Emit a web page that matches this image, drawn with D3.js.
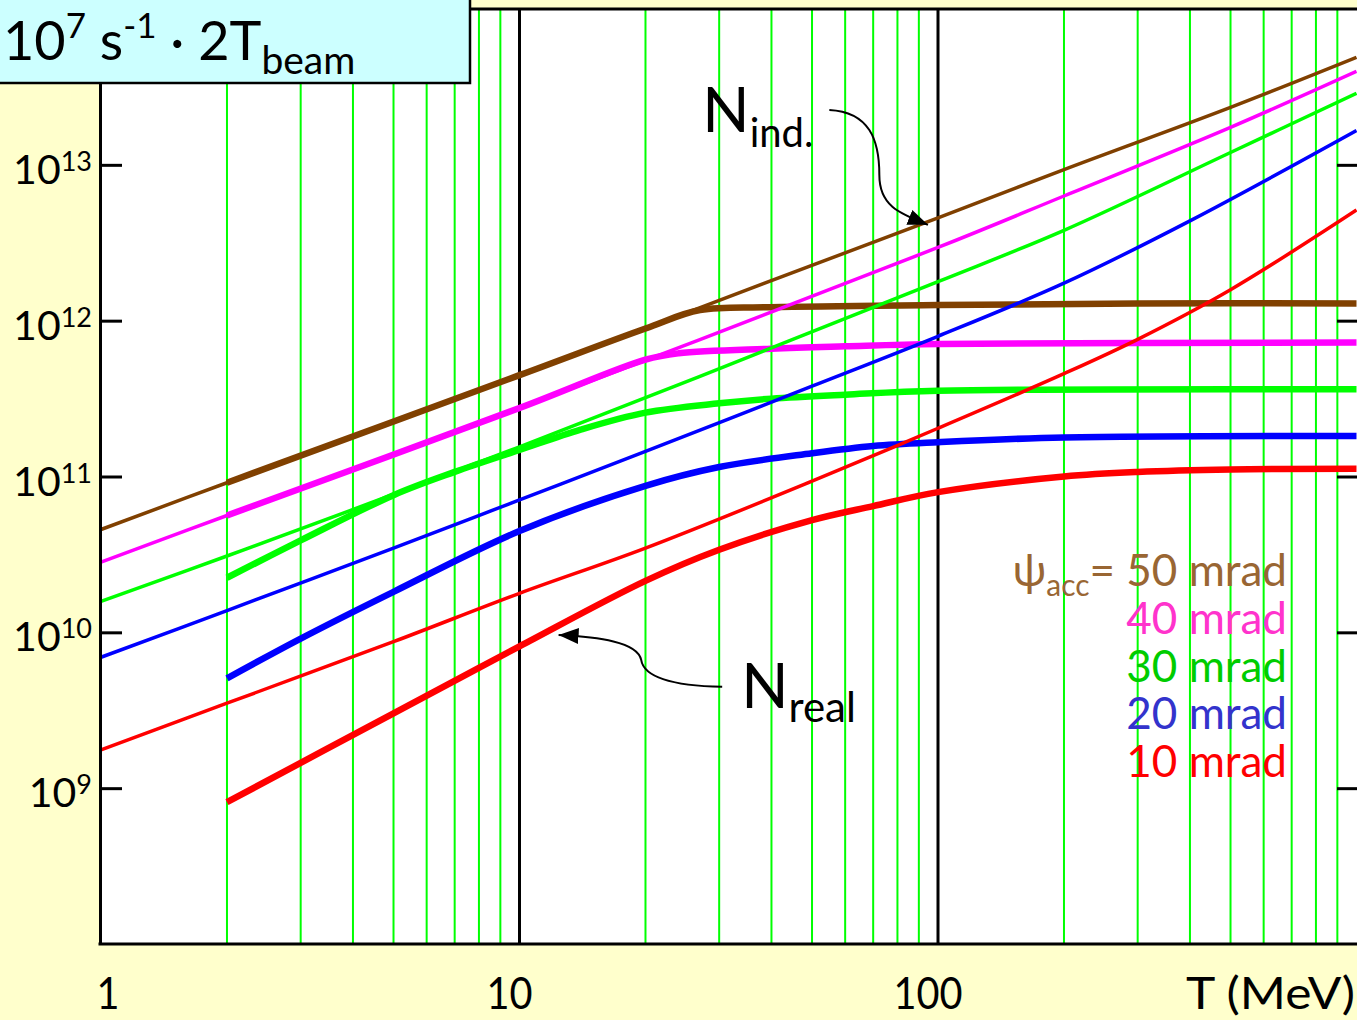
<!DOCTYPE html>
<html>
<head>
<meta charset="utf-8">
<script src="https://cdn.jsdelivr.net/npm/d3@7"></script>
<style>
  html, body { margin: 0; padding: 0; background: #ffffcc; }
  svg { display: block; }
  text { font-family: "Comic Sans MS", "Lato", sans-serif; }
</style>
</head>
<body>
<svg id="chart" width="1357" height="1020"></svg>
<script>
"use strict";

// ---- data ----
var gridT = [2, 3, 4, 5, 6, 7, 8, 9, 20, 30, 40, 50, 60, 70, 80, 90, 200, 300, 400, 500, 600, 700, 800, 900]
var decadeT = [10, 100]
var xTicks = [1, 10, 100]
var xTitle = "T (MeV)"
var yTicks = [1e9, 1e10, 1e11, 1e12, 1e13]
var yExponents = ["9", "10", "11", "12", "13"]

var angles = [50, 40, 30, 20, 10]
var lineColors = ["#804000", "#ff00ff", "#00ff00", "#0000ff", "#ff0000"]
var legendColors = ["#996633", "#ff33cc", "#00cc00", "#3333cc", "#ff0000"]

// N_ind (thin lines), [T in MeV, N]
var nInd50 = [[1, 4.57e10], [2, 9.12e10], [10, 4.47e11], [100, 4.57e12], [200, 9.33e12], [500, 2.34e13], [1000, 4.90e13]]
var nInd40 = [[1, 2.82e10], [2, 5.62e10], [10, 2.75e11], [100, 2.95e12], [200, 6.31e12], [500, 1.74e13], [1000, 3.98e13]]
var nInd30 = [[1, 1.58e10], [2, 3.09e10], [10, 1.55e11], [100, 1.78e12], [200, 3.80e12], [500, 1.20e13], [1000, 2.88e13]]
var nInd20 = [[1, 6.92e9], [2, 1.38e10], [5, 3.47e10], [10, 7.08e10], [20, 1.45e11], [50, 3.80e11], [100, 7.94e11],
              [200, 1.74e12], [400, 4.37e12], [1000, 1.66e13]]
var nInd10 = [[1, 1.76e9], [2, 3.51e9], [5, 8.71e9], [10, 1.78e10], [20, 3.47e10], [50, 9.33e10], [100, 2.04e11],
              [200, 4.57e11], [300, 7.59e11], [500, 1.58e12], [1000, 5.13e12]]

// N_real (thick lines)
var nReal50 = [[2, 9.12e10], [10, 4.47e11], [20, 8.91e11], [27, 1.17e12], [40, 1.22e12], [100, 1.26e12], [300, 1.29e12], [1000, 1.29e12]]
var nReal40 = [[2, 5.62e10], [10, 2.75e11], [20, 5.62e11], [24, 6.17e11], [40, 6.61e11], [60, 6.84e11], [100, 7.08e11], [1000, 7.24e11]]
var nReal30 = [[2, 2.24e10], [3, 3.89e10], [5, 7.59e10], [7, 1.07e11], [10, 1.48e11], [14, 2.00e11], [20, 2.57e11],
               [30, 2.95e11], [40, 3.16e11], [60, 3.35e11], [100, 3.55e11], [1000, 3.63e11]]
var nReal20 = [[2, 5.07e9], [3, 9.12e9], [5, 1.82e10], [10, 4.47e10], [20, 8.71e10], [30, 1.15e11], [50, 1.41e11],
               [70, 1.57e11], [100, 1.66e11], [200, 1.78e11], [1000, 1.82e11]]
var nReal10 = [[2, 8.13e8], [5, 3.02e9], [10, 8.13e9], [20, 2.14e10], [30, 3.39e10], [50, 5.25e10], [70, 6.46e10],
               [100, 7.94e10], [200, 1.00e11], [300, 1.07e11], [500, 1.11e11], [1000, 1.12e11]]

var nInd = [nInd50, nInd40, nInd30, nInd20, nInd10]
var nReal = [nReal50, nReal40, nReal30, nReal20, nReal10]

// annotation anchors [T, N]
var indArrow = {from: [55, 2.25e13], to: [94.6, 4.12e12]}
var realArrow = {from: [30.5, 4.47e9], to: [12.4, 9.6e9]}

// ---- layout ----
var svg = d3.select("#chart")
var plotLeft = 100, plotRight = 1359, plotTop = 9, plotBottom = 944

var x = d3.scaleLog().domain([1, 1000]).range([101, 1356.5])
var y = d3.scaleLog().domain([1e8, 1e14]).range([plotBottom, plotTop])

svg.append("rect")
    .attr("width", 1357).attr("height", 1020)
    .attr("fill", "#ffffcc")

svg.append("rect")
    .attr("x", plotLeft).attr("y", plotTop)
    .attr("width", plotRight - plotLeft).attr("height", plotBottom - plotTop)
    .attr("fill", "#ffffff")

svg.append("defs").append("clipPath").attr("id", "clip")
    .append("rect")
    .attr("x", plotLeft).attr("y", plotTop)
    .attr("width", plotRight - plotLeft).attr("height", plotBottom - plotTop)

// vertical grid
svg.append("g").selectAll("line")
    .data(gridT)
    .join("line")
    .attr("x1", d => x(d)).attr("x2", d => x(d))
    .attr("y1", plotTop).attr("y2", plotBottom)
    .attr("stroke", "#00ff00")
    .attr("stroke-width", 2)

svg.append("g").selectAll("line")
    .data(decadeT)
    .join("line")
    .attr("x1", d => x(d)).attr("x2", d => x(d))
    .attr("y1", plotTop).attr("y2", plotBottom)
    .attr("stroke", "#000")
    .attr("stroke-width", 3)

// curves
var line = d3.line()
    .x(d => x(d[0]))
    .y(d => y(d[1]))
    .curve(d3.curveCatmullRom.alpha(0.5))

var curves = svg.append("g").attr("clip-path", "url(#clip)")
angles.forEach(function (a, i) {
    curves.append("path")
        .attr("d", line(nInd[i]))
        .attr("fill", "none")
        .attr("stroke", lineColors[i])
        .attr("stroke-width", 3.5)
    curves.append("path")
        .attr("d", line(nReal[i]))
        .attr("fill", "none")
        .attr("stroke", lineColors[i])
        .attr("stroke-width", 6.5)
})

// frame + ticks
svg.append("g")
    .attr("transform", "translate(" + plotLeft + ",0)")
    .call(d3.axisRight(y).tickValues(yTicks).tickSize(22).tickSizeOuter(0).tickFormat(""))
svg.append("g")
    .attr("transform", "translate(" + plotRight + ",0)")
    .call(d3.axisLeft(y).tickValues(yTicks).tickSize(22).tickSizeOuter(0).tickFormat(""))
svg.selectAll(".domain").attr("stroke", "#000").attr("stroke-width", 3)
svg.selectAll(".tick line").attr("stroke", "#000").attr("stroke-width", 3)

svg.append("line")
    .attr("x1", plotLeft).attr("x2", plotRight)
    .attr("y1", plotTop).attr("y2", plotTop)
    .attr("stroke", "#000").attr("stroke-width", 3)
svg.append("line")
    .attr("x1", plotLeft - 1.5).attr("x2", plotRight)
    .attr("y1", plotBottom).attr("y2", plotBottom)
    .attr("stroke", "#000").attr("stroke-width", 3)

// y labels 10^n
var yLab = svg.append("g").selectAll("text")
    .data(yTicks)
    .join("text")
    .attr("x", 92)
    .attr("y", d => y(d) + 19)
    .attr("text-anchor", "end")
    .attr("font-size", 41)
    .attr("fill", "#000")
yLab.append("tspan").text("10")
yLab.append("tspan")
    .attr("font-size", 27)
    .attr("dy", -13)
    .text((d, i) => yExponents[i])

// x labels
svg.append("g").selectAll("text")
    .data(xTicks)
    .join("text")
    .attr("x", d => d === 1 ? x(d) + 7 : x(d) - 10)
    .attr("y", 1009)
    .attr("text-anchor", "middle")
    .attr("font-size", 44)
    .attr("textLength", d => String(d).length * 23)
    .attr("lengthAdjust", "spacingAndGlyphs")
    .text(d => d)

svg.append("text")
    .attr("x", 1186)
    .attr("y", 1009)
    .attr("font-size", 44)
    .attr("textLength", 169)
    .attr("lengthAdjust", "spacingAndGlyphs")
    .text(xTitle)

// legend
var legend = svg.append("g").selectAll("text")
    .data(angles)
    .join("text")
    .attr("x", 1287)
    .attr("y", (d, i) => 586 + i * 47.8)
    .attr("text-anchor", "end")
    .attr("font-size", 44)
    .attr("fill", (d, i) => legendColors[i])
legend.each(function (d, i) {
    var t = d3.select(this)
    if (i === 0) {
        t.append("tspan").text("\u03c8")
        t.append("tspan").attr("font-size", 30).attr("dy", 10).text("acc")
        t.append("tspan").attr("dy", -10).text("= " + d + " mrad")
    } else {
        t.text(d + " mrad")
    }
})

// arrows
svg.append("defs").append("marker")
    .attr("id", "head")
    .attr("markerUnits", "userSpaceOnUse")
    .attr("markerWidth", 22).attr("markerHeight", 16)
    .attr("refX", 20).attr("refY", 8)
    .attr("orient", "auto")
    .append("path")
    .attr("d", "M0,0 L20,8 L0,16 Z")
    .attr("fill", "#000")

var ia = [x(indArrow.from[0]), y(indArrow.from[1])], ib = [x(indArrow.to[0]), y(indArrow.to[1])]
svg.append("path")
    .attr("d", "M" + ia + " C" + [ia[0] + 40, ia[1] + 2] + " " + [ia[0] + 50, ia[1] + 30] + " " + [ia[0] + 50, ia[1] + 65]
        + " C" + [ia[0] + 50, ia[1] + 95] + " " + [ib[0] - 30, ib[1] - 12] + " " + ib)
    .attr("fill", "none").attr("stroke", "#000").attr("stroke-width", 2)
    .attr("marker-end", "url(#head)")

var ra = [x(realArrow.from[0]), y(realArrow.from[1])], rb = [x(realArrow.to[0]), y(realArrow.to[1])]
svg.append("path")
    .attr("d", "M" + ra + " C" + [ra[0] - 45, ra[1] - 1] + " " + [ra[0] - 78, ra[1] - 8] + " " + [ra[0] - 81, ra[1] - 27]
        + " C" + [ra[0] - 85, ra[1] - 45] + " " + [rb[0] + 40, rb[1] + 2] + " " + rb)
    .attr("fill", "none").attr("stroke", "#000").attr("stroke-width", 2)
    .attr("marker-end", "url(#head)")

var nIndLabel = svg.append("text")
    .attr("x", ia[0] - 127).attr("y", ia[1] + 22)
    .attr("font-size", 62)
nIndLabel.append("tspan").text("N")
nIndLabel.append("tspan").attr("font-size", 40).attr("dy", 15).text("ind.")

var nRealLabel = svg.append("text")
    .attr("x", ra[0] + 19).attr("y", ra[1] + 21)
    .attr("font-size", 62)
nRealLabel.append("tspan").text("N")
nRealLabel.append("tspan").attr("font-size", 42).attr("dy", 14).text("real")

// cyan box top-left
svg.append("rect")
    .attr("x", -5).attr("y", -5)
    .attr("width", 475).attr("height", 88)
    .attr("fill", "#ccffff")
    .attr("stroke", "#000").attr("stroke-width", 2.5)

var boxText = svg.append("text")
    .attr("x", 3).attr("y", 60)
    .attr("font-size", 54)
    .attr("fill", "#000")
boxText.append("tspan").text("10")
boxText.append("tspan").attr("font-size", 35).attr("dy", -22).text("7")
boxText.append("tspan").attr("dy", 22).text(" s")
boxText.append("tspan").attr("font-size", 35).attr("dy", -22).text("-1")
boxText.append("tspan").attr("dy", 22).text(" \u00b7 2T")
boxText.append("tspan").attr("font-size", 39).attr("dy", 14).text("beam")
</script>
</body>
</html>
